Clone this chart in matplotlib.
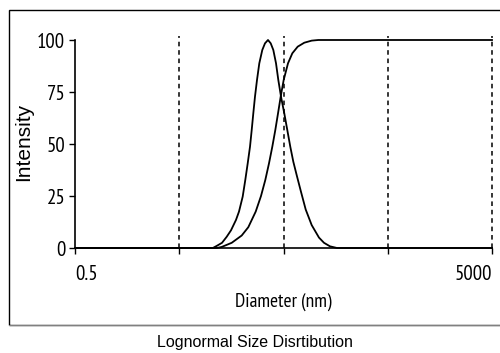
import matplotlib.pyplot as plt
from matplotlib.patches import Rectangle

# Данные (диаметр в нм, интенсивность в %)
diam_peak = [0.5, 10.5, 11.43, 12.86, 14.26, 15.68, 17.51, 18.71, 20.30, 21.50,
             22.68, 23.86, 24.77, 25.66, 26.64, 27.85, 29.30, 31.30, 33.22,
             35.50, 37.70, 39.93, 42.38, 44.58, 47.32, 50.89, 54.38, 58.09,
             62.09, 66.93, 73.60, 81.65, 93.22, 109.5, 122.3, 139.6, 163.0, 5000]
int_peak = [0, 0, 1.0, 2.5, 5.4, 8.5, 13.5, 17.5, 24.7, 32.7,
            40.7, 48.7, 56.7, 64.7, 72.8, 80.8, 88.8, 95.2, 98.4,
            100, 98.4, 95.2, 88.8, 80.8, 72.8, 64.7, 56.7, 48.7,
            41.5, 35, 27, 18.5, 11, 5, 2.5, 0.8, 0, 0]

diam_cum = [0.5, 11.5, 12.77, 15.93, 19.86, 22.98, 27.06, 30.42, 33.45, 36.30,
            39.05, 41.72, 44.29, 47.00, 50.21, 55.23, 60.74, 68.42, 79.15,
            93.22, 107.8, 5000]
int_cum = [0, 0, 0.5, 2.5, 6.0, 10.0, 17.5, 25.0, 32.7, 40.7,
           48.7, 56.7, 64.7, 72.8, 80.8, 88.8, 93.6, 96.8, 98.7,
           99.7, 100, 100]

grid_x = [5, 50, 500, 5000]
xtick_labels = ['0.5', '5000']
yticks = [0, 25, 50, 75, 100]

narrow = ['Liberation Sans Narrow', 'Arial Narrow', 'PT Sans Narrow',
          'Archivo Narrow', 'Roboto Condensed', 'DejaVu Sans']
sans = ['Liberation Sans', 'DejaVu Sans']

fig = plt.figure(figsize=(5, 3.53), dpi=100)

# Рамка вокруг графика
fig.patches.append(Rectangle((9 / 500, 1 - 325 / 353), 1.0, (325 - 10) / 353,
                             transform=fig.transFigure, fill=False,
                             edgecolor='black', linewidth=1.0))
fig.patches.append(Rectangle((9 / 500, 1 - 326 / 353), 1.0, 0.004,
                             transform=fig.transFigure, facecolor='#808080',
                             edgecolor='none'))

ax = fig.add_axes([75 / 500, 1 - 248 / 353, (492 - 75) / 500, (248 - 40) / 353])
ax.set_xscale('log')
ax.set_xlim(0.5, 5000)
ax.set_ylim(0, 100)

# Пунктирные вертикали на декадах
ax.vlines(grid_x, 0, 102, colors='black', linestyles=(0, (3, 2.5)),
          linewidth=1.1, clip_on=False)

ax.plot(diam_peak, int_peak, color='black', linewidth=1.3, clip_on=False)
ax.plot(diam_cum, int_cum, color='black', linewidth=1.3, clip_on=False)

for s in ['top', 'right']:
    ax.spines[s].set_visible(False)
for s in ['left', 'bottom']:
    ax.spines[s].set_linewidth(1.2)

ax.set_xticks([0.5] + grid_x)
ax.set_xticklabels([''] * 5)
ax.minorticks_off()
ax.tick_params(axis='x', length=4, width=1, direction='out')
ax.set_yticks(yticks)
ax.set_yticklabels([str(v) for v in yticks], family=narrow, fontsize=15)
ax.tick_params(axis='y', length=4, width=1, pad=3)

ax.text(0.5, -8, xtick_labels[0], ha='left', va='top', family=narrow, fontsize=15)
ax.text(5000, -8, xtick_labels[1], ha='right', va='top', family=narrow, fontsize=15)

ax.set_xlabel('Diameter (nm)', family=narrow, fontsize=14)
ax.xaxis.set_label_coords(0.5, -0.215)
ax.set_ylabel('Intensity', family=sans, fontsize=15)
ax.yaxis.set_label_coords(-0.10, 0.51)

fig.text(255 / 500, 1 - 343 / 353, 'Lognormal Size Disrtibution',
         family=sans, fontsize=11.5, ha='center', va='center')

fig.savefig('out.png', dpi=100)
